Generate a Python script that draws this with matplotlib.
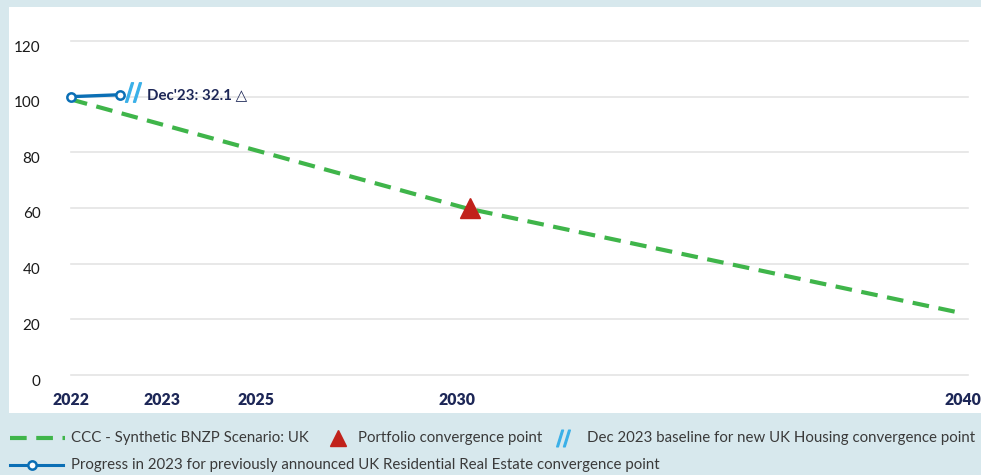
import matplotlib
matplotlib.use("Agg")
import matplotlib.pyplot as plt
from matplotlib.lines import Line2D
from matplotlib.patches import Rectangle
from matplotlib.transforms import ScaledTranslation

plt.rcParams["font.family"] = ["Lato", "DejaVu Sans"]

# data
scenario_years = [2022, 2030, 2040]
scenario_values = [99, 60, 22.5]
progress_years = [2022, 2023]
progress_values = [100, 100.7]
convergence_year = [2030.1]
convergence_value = [60]
baseline_year = [2023.25]
baseline_value = [101.7]
note_text = "Dec'23: 32.1 \u25b3"
xtick_pos = [2022, 2023.85, 2025.75, 2029.83, 2040.1]
xtick_labels = ["2022", "2023", "2025", "2030", "2040"]
ytick_vals = [0, 20, 40, 60, 80, 100, 120]

GREEN = "#3fb54a"
BLUE = "#0b6fb5"
LIGHT_BLUE = "#3ab0e8"
RED = "#c1221b"
NAVY = "#1d2757"
BG = "#d7e8ed"
GRID = "#e4e4e4"
TEXT = "#3a3a3a"

W, H = 981, 475
fig = plt.figure(figsize=(W / 100, H / 100), dpi=100, facecolor=BG)


def fx(px):
    return px / W


def fy(py):
    return 1 - py / H


# white panel behind the plot
fig.patches.append(Rectangle((fx(9), fy(413)), 1 - fx(9), fy(7) - fy(413),
                             transform=fig.transFigure, facecolor="white",
                             edgecolor="none", zorder=-1))

ax = fig.add_axes([fx(71), fy(375), fx(968) - fx(71), fy(41) - fy(375)])
ax.set_zorder(1)
ax.set_facecolor("none")
ax.set_xlim(2022, 2040.2)
ax.set_ylim(0, 120)
for s in ax.spines.values():
    s.set_visible(False)
ax.set_yticks(ytick_vals)
ax.yaxis.grid(True, color=GRID, linewidth=1.2)
for gl in ax.get_ygridlines():
    gl.set_clip_on(False)
ax.set_xticks(xtick_pos)
ax.set_xticklabels(xtick_labels, fontweight="heavy", color=NAVY, fontsize=11.3)
ax.tick_params(axis="x", length=0, pad=12)
ax.tick_params(axis="y", length=0, pad=22, labelsize=11, labelcolor="#1a1a1a")
ax.set_axisbelow(True)
# y labels sit a little below their grid lines
shift = ScaledTranslation(0, -5 / 100, fig.dpi_scale_trans)
for lab in ax.get_yticklabels():
    lab.set_transform(lab.get_transform() + shift)

ax.plot(scenario_years, scenario_values, color=GREEN, linewidth=3,
        dashes=(4, 2.3), zorder=2, clip_on=False)
ax.plot(convergence_year, convergence_value, marker="^", color=RED,
        markersize=14, linestyle="none", zorder=4)
ax.plot(progress_years, progress_values, color=BLUE, linewidth=2.4,
        marker="o", markersize=6, markerfacecolor="white",
        markeredgecolor=BLUE, markeredgewidth=1.8, zorder=5, clip_on=False)
ax.plot(baseline_year, baseline_value, marker="$//$", color=LIGHT_BLUE,
        markersize=14, linestyle="none", zorder=5)
ax.text(2023.54, 100.6, note_text, color=NAVY, fontsize=10.8, fontweight="bold",
        va="center", ha="left")

# legend, row 1
LEG = 10.8
y1 = fy(438)
fig.add_artist(Line2D([fx(10), fx(65)], [y1, y1], color=GREEN, linewidth=3,
                      dashes=(4, 2.3), transform=fig.transFigure))
fig.text(fx(71), y1, "CCC - Synthetic BNZP Scenario: UK", color=TEXT,
         fontsize=LEG, va="center")
fig.add_artist(Line2D([fx(338)], [y1], marker="^", color=RED, markersize=12,
                      linestyle="none", transform=fig.transFigure))
fig.text(fx(358), y1, "Portfolio convergence point", color=TEXT,
         fontsize=LEG, va="center")
fig.add_artist(Line2D([fx(563)], [y1], marker="$//$", color=LIGHT_BLUE,
                      markersize=12, linestyle="none", transform=fig.transFigure))
fig.text(fx(587), y1, "Dec 2023 baseline for new UK Housing convergence point",
         color=TEXT, fontsize=LEG, va="center")

# legend, row 2
y2 = fy(465)
fig.add_artist(Line2D([fx(10), fx(63)], [y2, y2], color=BLUE, linewidth=2.2,
                      transform=fig.transFigure))
fig.add_artist(Line2D([fx(32)], [y2], marker="o", markersize=6,
                      markerfacecolor="white", markeredgecolor=BLUE,
                      markeredgewidth=1.8, linestyle="none",
                      transform=fig.transFigure))
fig.text(fx(71), y2,
         "Progress in 2023 for previously announced UK Residential Real Estate convergence point",
         color=TEXT, fontsize=LEG, va="center")

fig.savefig("out.png", dpi=100, facecolor=BG)
